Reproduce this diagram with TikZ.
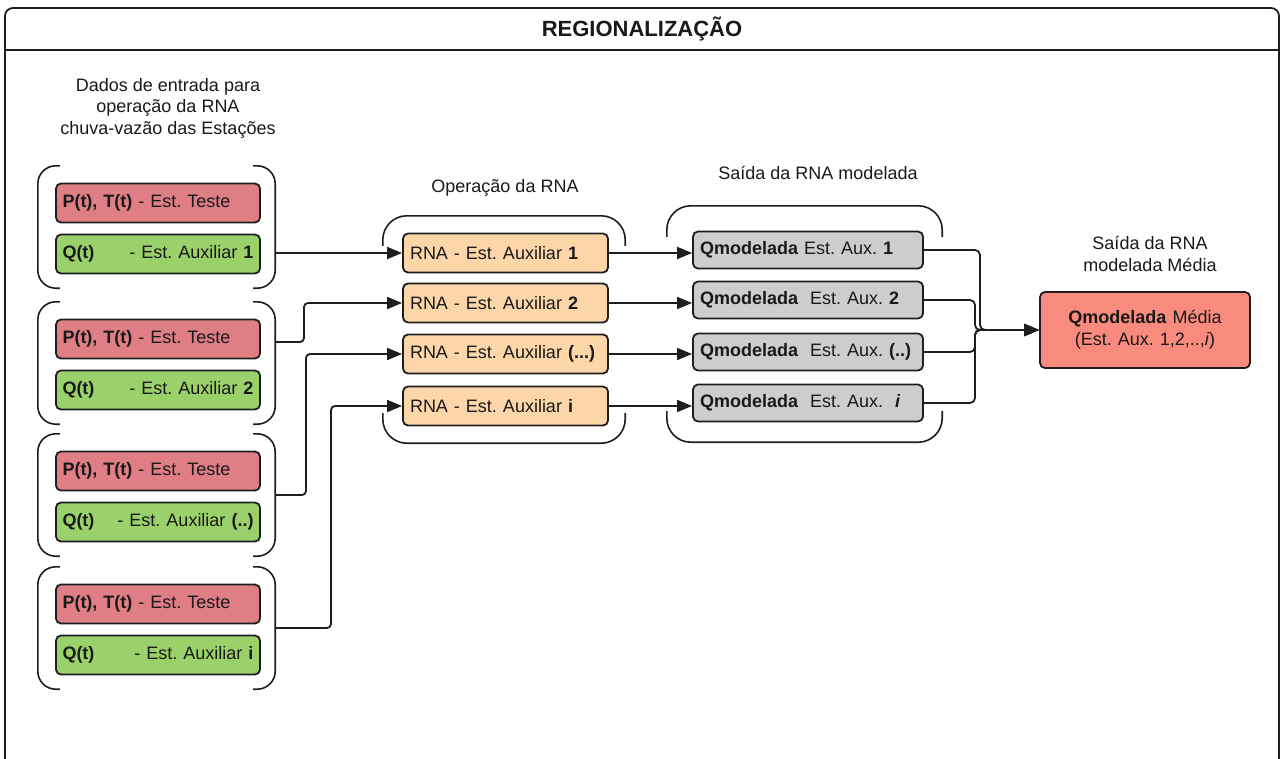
\documentclass[tikz,border=0pt]{standalone}
\usepackage{fontspec}
\setmainfont{Liberation Sans}
\usetikzlibrary{arrows.meta,positioning,calc}
\frenchspacing

\definecolor{edge}{RGB}{30,30,30}
\definecolor{testered}{RGB}{224,126,133}
\definecolor{auxgreen}{RGB}{154,209,106}
\definecolor{rnaorange}{RGB}{252,214,168}
\definecolor{qgray}{RGB}{205,205,205}
\definecolor{medsalmon}{RGB}{249,139,126}

\begin{document}
\begin{tikzpicture}[x=1pt,y=-1pt,
  every node/.style={font=\fontsize{18}{22}\selectfont, inner sep=0pt, text=black!90},
  box/.style={draw=edge, line width=1.8pt, rounded corners=5pt, minimum height=39pt},
  testebox/.style={box, fill=testered, text width=191pt, inner xsep=6.5pt, align=left},
  auxbox/.style={box, fill=auxgreen, text width=191pt, inner xsep=6.5pt, align=left},
  rnabox/.style={box, fill=rnaorange, text width=191pt, inner xsep=7pt, align=left},
  qbox/.style={box, fill=qgray, minimum height=37pt, text width=216pt, inner xsep=7pt, align=left},
  medbox/.style={box, fill=medsalmon, minimum height=76pt, text width=194pt, inner xsep=8pt, align=center},
  grp/.style={minimum width=237pt, minimum height=122pt},
  brkt/.style={draw=edge, line width=1.6pt},
  link/.style={draw=edge, line width=1.8pt},
  arr/.style={link, -{Triangle[length=15pt,width=12pt]}},
]
  \useasboundingbox (0,0) rectangle (1284,758);
  \def\xb{304}
  \def\xc{306}
  \def\xd{331}

  % Outer frame and title bar
  \draw[link, rounded corners=8pt] (5,760) -- (5,8) -- (1279,8) -- (1279,760);
  \draw[link] (5,50) -- (1279,50);
  \node[font=\fontsize{22}{24}\selectfont\bfseries] (title) at (642,29) {REGIONALIZAÇÃO};

  % Headings
  \node[align=center, font=\fontsize{18}{21.5}\selectfont] (hdrin) at (168,108)
    {Dados de entrada para\\operação da RNA\\chuva-vazão das Estações};
  \node (hdrrna) at (505,188) {Operação da RNA};
  \node (hdrq) at (818,173) {Saída da RNA modelada};
  \node[align=center] (hdrmed) at (1150,254) {Saída da RNA\\modelada Média};

  % Input groups (rain + flow of each station)
  \foreach \i/\top/\lab in {1/166/1, 2/302/2, 3/434/{(..)}, 4/567/i} {
    \node[grp] (grp\i) at (156.5,{\top+61}) {};
    \node[testebox] (teste\i) at (158,{\top+37}) {\textbf{P(t), T(t)} - Est. Teste};
    \node[auxbox] (aux\i) at (158,{\top+88}) {\textbf{Q(t)}\hfill- Est. Auxiliar \textbf{\lab}};
    \draw[brkt, rounded corners=18pt] ([xshift=22pt]grp\i.north west) -- (grp\i.north west)
      -- (grp\i.south west) -- ([xshift=22pt]grp\i.south west);
    \draw[brkt, rounded corners=18pt] ([xshift=-22pt]grp\i.north east) -- (grp\i.north east)
      -- (grp\i.south east) -- ([xshift=-22pt]grp\i.south east);
  }

  % RNA operation
  \node[minimum width=242pt, minimum height=227pt] (rnagrp) at (504,329.5) {};
  \node[rnabox] (rna1) at (505.5,253) {RNA - Est. Auxiliar \textbf{1}};
  \node[rnabox] (rna2) at (505.5,303) {RNA - Est. Auxiliar \textbf{2}};
  \node[rnabox] (rna3) at (505.5,354) {RNA - Est. Auxiliar \textbf{(...)}};
  \node[rnabox] (rna4) at (505.5,406) {RNA - Est. Auxiliar \textbf{i}};
  \draw[brkt, rounded corners=24pt] ([yshift=-30pt]rnagrp.north west) -- (rnagrp.north west)
    -- (rnagrp.north east) -- ([yshift=-30pt]rnagrp.north east);
  \draw[brkt, rounded corners=24pt] ([yshift=30pt]rnagrp.south west) -- (rnagrp.south west)
    -- (rnagrp.south east) -- ([yshift=30pt]rnagrp.south east);

  % Modelled output
  \node[minimum width=275pt, minimum height=236pt] (qgrp) at (804.5,324) {};
  \node[qbox] (q1) at (808,250) {\textbf{Qmodelada} Est. Aux. \textbf{1}};
  \node[qbox] (q2) at (808,300) {\textbf{Qmodelada}~ Est. Aux. \textbf{2}};
  \node[qbox] (q3) at (808,352) {\textbf{Qmodelada}~ Est. Aux. \textbf{(..)}};
  \node[qbox] (q4) at (808,403) {\textbf{Qmodelada}~ Est. Aux.~ \textbf{\textit{i}}};
  \draw[brkt, rounded corners=24pt] ([yshift=-31pt]qgrp.north west) -- (qgrp.north west)
    -- (qgrp.north east) -- ([yshift=-31pt]qgrp.north east);
  \draw[brkt, rounded corners=24pt] ([yshift=31pt]qgrp.south west) -- (qgrp.south west)
    -- (qgrp.south east) -- ([yshift=31pt]qgrp.south east);

  % Mean output
  \node[medbox] (med) at (1145,330) {\textbf{Qmodelada} Média\\(Est. Aux. 1,2,..,\textit{i})};

  % Inputs -> RNA
  \coordinate (out2) at (275,342);
  \coordinate (out3) at (275,495);
  \coordinate (out4) at (275,628);
  \draw[arr] (grp1.east |- rna1) -- (rna1);
  \draw[arr, rounded corners=4pt] (out2) -- (\xb,342) |- (rna2);
  \draw[arr, rounded corners=4pt] (out3) -- (\xc,495) |- (rna3);
  \draw[arr, rounded corners=4pt] (out4) -- (\xd,628) |- (rna4);

  % RNA -> Qmodelada
  \foreach \i in {1,...,4}
    \draw[arr] (rna\i.east) -- (rna\i.east -| q\i.west);

  % Qmodelada -> mean
  \draw[arr, rounded corners=5pt] (q1.east) -| (980,330) -- (med);
  \foreach \i in {2,3,4}
    \draw[arr, rounded corners=5pt] (q\i.east) -| (975,330) -- (med);
\end{tikzpicture}
\end{document}
